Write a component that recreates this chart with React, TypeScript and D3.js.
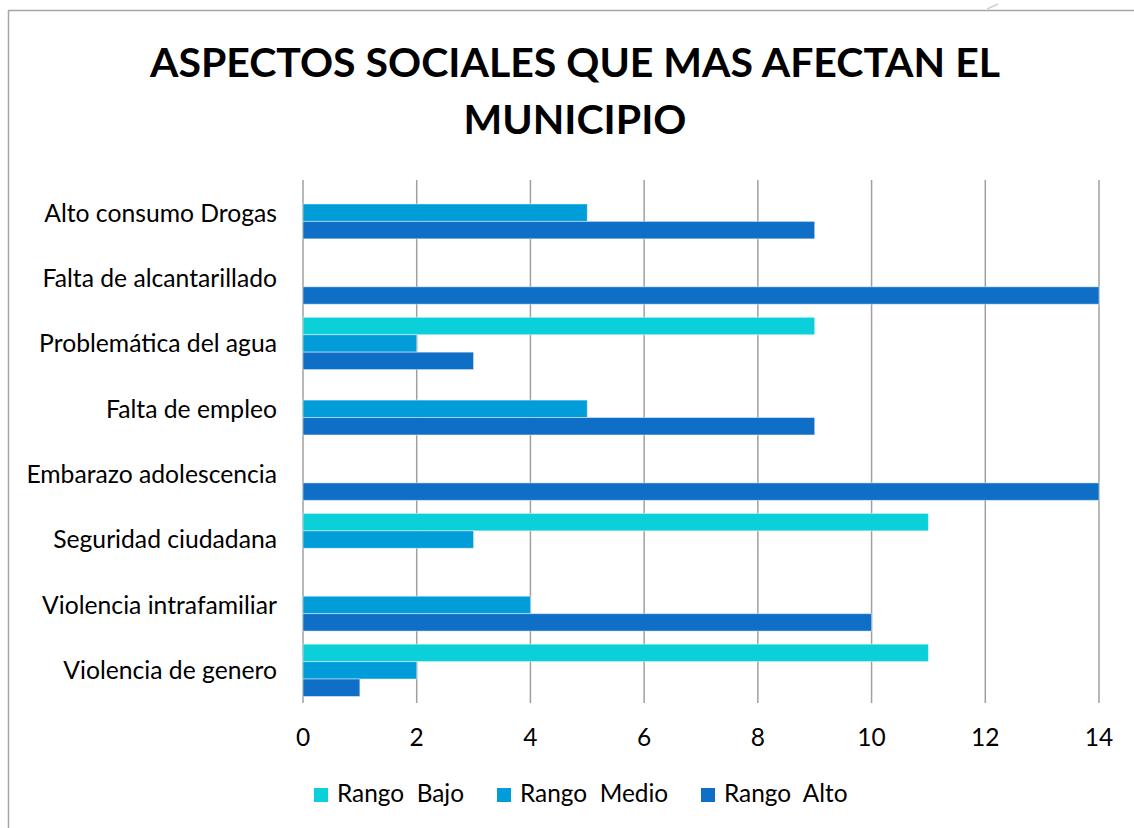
import React from "react";
import * as d3 from "d3";

const categories = [
  "Alto consumo Drogas",
  "Falta de alcantarillado",
  "Problemática del agua",
  "Falta de empleo",
  "Embarazo adolescencia",
  "Seguridad ciudadana",
  "Violencia intrafamiliar",
  "Violencia de genero",
];
const seriesNames = ["Rango  Bajo", "Rango  Medio", "Rango  Alto"];
const rangoBajo = [0, 0, 9, 0, 0, 11, 0, 11];
const rangoMedio = [5, 0, 2, 5, 0, 3, 4, 2];
const rangoAlto = [9, 14, 3, 9, 14, 0, 10, 1];
const xTicks = [0, 2, 4, 6, 8, 10, 12, 14];
const colors = ["#0BD0D9", "#009DD9", "#0F6FC6"];
const titleLines = ["ASPECTOS SOCIALES QUE MAS AFECTAN EL", "MUNICIPIO"];

const W = 1134;
const H = 828;
const FONT = "Lato, 'Open Sans', sans-serif";

export default function App() {
  const x = d3.scaleLinear().domain([0, 14]).range([303, 1099]);
  const y = d3
    .scaleBand<string>()
    .domain(categories)
    .range([180, 703])
    .paddingInner(0.2)
    .paddingOuter(0.1);
  const sub = d3
    .scaleBand<string>()
    .domain(seriesNames)
    .range([0, y.bandwidth()]);
  const series = [rangoBajo, rangoMedio, rangoAlto];
  const legendX = [314, 497, 701];

  return (
    <svg
      width={W}
      height={H}
      style={{ position: "absolute", left: 0, top: 0, background: "#fff" }}
      fontFamily={FONT}
    >
      <rect x={0} y={0} width={W} height={H} fill="#fff" />
      <line x1={8.5} y1={10} x2={8.5} y2={H} stroke="#A6A6A6" strokeWidth={1.5} />
      <line x1={8} y1={10.5} x2={W} y2={10.5} stroke="#A6A6A6" strokeWidth={1.5} />
      <line x1={987} y1={9} x2={998} y2={4} stroke="#D0D0D0" strokeWidth={1.5} />

      {titleLines.map((t, i) => (
        <text
          key={t}
          x={575}
          y={77 + i * 57}
          textAnchor="middle"
          fontSize={41}
          fontWeight="bold"
          fill="#000"
        >
          {t}
        </text>
      ))}

      {xTicks.map((t) => (
        <g key={t}>
          <line
            x1={x(t)}
            x2={x(t)}
            y1={180}
            y2={703}
            stroke="#A0A0A0"
            strokeWidth={1.5}
          />
          <text
            x={x(t)}
            y={746}
            textAnchor="middle"
            fontSize={24.5}
            fill="#000"
          >
            {t}
          </text>
        </g>
      ))}

      {categories.map((c, ci) => (
        <g key={c}>
          {series.map((s, si) =>
            s[ci] > 0 ? (
              <rect
                key={si}
                x={x(0)}
                y={(y(c) as number) + (sub(seriesNames[si]) as number)}
                width={x(s[ci]) - x(0)}
                height={sub.bandwidth()}
                fill={colors[si]}
                stroke="#ffffff"
                strokeOpacity={0.45}
                strokeWidth={1}
              />
            ) : null
          )}
          <text
            x={277}
            y={(y(c) as number) + y.bandwidth() / 2}
            dy="0.36em"
            textAnchor="end"
            fontSize={24.7}
            fill="#000"
          >
            {c}
          </text>
        </g>
      ))}

      {seriesNames.map((n, i) => (
        <g key={n}>
          <rect x={legendX[i]} y={788} width={14} height={14} fill={colors[i]} />
          <text
            x={legendX[i] + 23}
            y={802}
            fontSize={24.4}
            fill="#000"
            style={{ whiteSpace: "pre" }}
          >
            {n}
          </text>
        </g>
      ))}
    </svg>
  );
}
